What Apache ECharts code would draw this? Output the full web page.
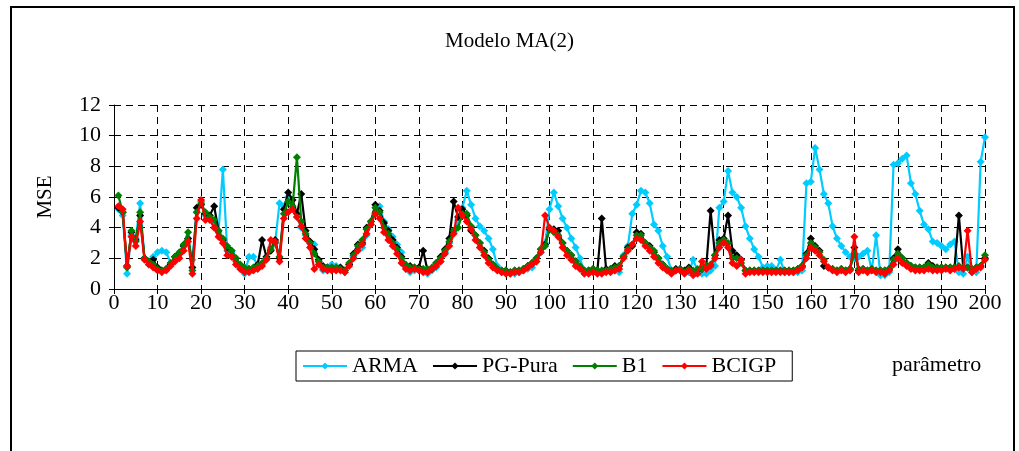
<!DOCTYPE html>
<html>
<head>
<meta charset="utf-8">
<script src="https://cdn.jsdelivr.net/npm/echarts@6/dist/echarts.min.js"></script>
<style>
html,body{margin:0;padding:0;background:#fff;}
#chart{width:1019px;height:451px;}
</style>
</head>
<body>
<div id="chart"></div>
<script>
// parameter index (categories) 1..200
const params = Array.from({length: 200}, (_, i) => i + 1);

const arma = [
5.2,4.8,1.0,3.5,3.3,5.6,2.0,1.6,2.1,2.4,
2.5,2.4,1.7,2.1,2.3,2.8,3.3,1.9,5.0,5.7,
4.8,4.6,4.3,3.7,7.8,2.5,2.4,1.8,1.3,1.0,
2.1,2.1,1.5,1.6,2.0,2.7,3.0,5.6,5.4,6.0,
5.3,4.7,4.0,3.5,3.0,2.9,1.8,1.2,1.4,1.6,
1.5,1.4,1.1,1.6,2.1,2.6,2.7,3.5,4.2,5.0,
5.4,4.4,3.9,3.4,2.9,2.4,1.4,1.1,1.2,1.3,
1.3,1.0,1.2,1.4,1.8,2.4,3.0,3.7,4.5,5.3,
6.4,5.5,4.6,4.1,3.8,3.3,2.6,1.5,1.1,1.1,
1.0,1.0,1.1,1.2,1.3,1.4,1.8,2.4,3.0,5.2,
6.3,5.4,4.6,4.0,3.3,2.7,2.0,1.1,1.2,1.2,
1.1,1.2,1.2,1.2,1.2,1.1,2.2,2.8,4.9,5.5,
6.4,6.3,5.6,4.2,3.8,2.8,2.1,1.2,1.3,1.2,
1.1,1.1,1.9,1.2,1.0,1.0,1.2,1.5,5.3,5.7,
7.7,6.3,6.0,5.3,4.1,3.3,2.6,2.1,1.4,1.5,
1.5,1.2,1.9,1.1,1.1,1.1,1.1,1.2,6.9,7.0,
9.2,7.8,6.2,5.6,4.1,3.3,2.8,2.4,2.1,2.0,
2.1,2.3,2.5,1.2,3.5,0.9,0.9,1.1,8.1,8.2,
8.5,8.7,6.9,6.2,5.1,4.2,3.9,3.1,3.0,2.8,
2.6,2.9,3.1,1.1,1.0,2.1,1.1,1.1,8.3,9.9
];

const pgPura = [
5.3,5.0,1.5,3.7,3.2,4.8,2.0,1.8,1.9,1.4,
1.2,1.3,1.6,2.1,2.3,2.8,3.3,1.4,5.3,5.5,
4.9,4.8,5.4,3.8,3.2,2.7,2.5,2.0,1.5,1.3,
1.3,1.3,1.6,3.2,2.1,2.5,3.2,2.0,5.2,6.3,
5.8,4.9,6.2,3.8,3.1,2.6,1.9,1.5,1.4,1.4,
1.3,1.4,1.2,1.6,2.3,2.9,3.0,4.0,4.4,5.5,
5.1,4.3,3.8,3.2,2.7,2.1,1.5,1.5,1.4,1.4,
2.5,1.2,1.3,1.7,2.1,2.6,3.3,5.7,4.7,5.2,
4.8,3.8,3.5,3.0,2.5,2.0,1.6,1.3,1.2,1.2,
1.1,1.2,1.2,1.3,1.5,1.7,2.0,2.6,2.9,3.9,
3.9,3.8,3.0,2.5,2.2,1.8,1.4,1.2,1.2,1.3,
1.2,4.6,1.3,1.3,1.5,1.5,2.1,2.7,2.8,3.7,
3.6,3.0,2.8,2.4,2.0,1.6,1.3,1.1,1.3,1.3,
1.2,1.4,1.1,1.2,1.3,1.5,5.1,2.2,3.2,3.3,
4.8,2.5,2.2,1.9,1.2,1.2,1.2,1.2,1.2,1.2,
1.2,1.2,1.2,1.2,1.2,1.2,1.3,1.5,2.3,3.3,
2.8,2.5,1.5,1.4,1.3,1.2,1.3,1.2,1.3,2.7,
1.2,1.3,1.2,1.3,1.2,1.2,1.2,1.3,2.0,2.6,
2.0,1.7,1.5,1.4,1.4,1.4,1.7,1.5,1.4,1.4,
1.4,1.4,1.4,4.8,1.4,1.4,1.3,1.4,1.5,2.0
];

const b1 = [
6.1,5.0,1.4,3.8,3.1,5.0,2.0,1.8,1.6,1.3,
1.2,1.3,1.7,2.1,2.4,2.9,3.7,1.2,5.0,5.6,
5.0,4.7,4.5,3.8,3.3,2.8,2.5,2.0,1.6,1.4,
1.3,1.4,1.5,1.7,2.0,2.6,3.0,2.1,4.9,5.7,
5.4,8.6,4.4,3.6,3.0,2.3,1.8,1.4,1.4,1.4,
1.4,1.3,1.2,1.7,2.2,2.8,3.2,3.9,4.4,5.3,
5.0,4.0,3.6,3.0,2.6,2.0,1.6,1.4,1.4,1.3,
1.3,1.3,1.4,1.7,2.0,2.5,3.1,3.8,4.0,4.9,
4.9,4.1,3.5,3.0,2.4,1.9,1.6,1.3,1.2,1.2,
1.1,1.2,1.2,1.3,1.5,1.7,2.0,2.6,2.8,4.0,
3.7,3.5,3.0,2.5,2.2,1.8,1.5,1.2,1.2,1.3,
1.2,1.2,1.2,1.3,1.4,1.5,2.1,2.6,2.9,3.5,
3.5,3.0,2.7,2.5,2.0,1.6,1.3,1.2,1.2,1.3,
1.1,1.3,1.2,1.3,1.3,1.5,1.6,2.2,3.0,3.2,
3.0,2.0,2.0,1.7,1.2,1.2,1.2,1.2,1.2,1.2,
1.2,1.2,1.2,1.2,1.2,1.2,1.3,1.5,2.2,3.0,
2.7,2.4,1.9,1.4,1.3,1.2,1.3,1.2,1.3,2.3,
1.3,1.3,1.2,1.3,1.2,1.2,1.2,1.3,1.9,2.3,
2.0,1.7,1.5,1.4,1.4,1.4,1.6,1.4,1.4,1.4,
1.4,1.4,1.4,1.5,1.4,1.4,1.3,1.4,1.5,2.2
];

const bcigp = [
5.4,5.2,1.5,3.4,2.8,4.4,1.9,1.6,1.4,1.2,
1.1,1.2,1.5,1.8,2.0,2.5,3.1,1.0,4.6,5.8,
4.5,4.5,4.0,3.4,3.0,2.2,2.1,1.6,1.3,1.1,
1.1,1.2,1.3,1.5,1.9,3.2,3.1,1.8,4.6,5.0,
5.2,4.7,4.1,3.3,2.7,1.3,1.6,1.3,1.2,1.2,
1.2,1.2,1.1,1.5,2.0,2.5,2.9,3.6,4.2,4.9,
4.6,3.7,3.2,2.8,2.3,1.7,1.3,1.2,1.3,1.2,
1.1,1.1,1.3,1.5,1.8,2.3,2.8,3.6,5.3,4.8,
4.4,3.9,3.2,2.7,2.2,1.7,1.4,1.2,1.1,1.0,
1.0,1.1,1.1,1.2,1.4,1.6,1.8,2.4,4.8,4.0,
3.8,3.4,2.7,2.2,1.9,1.5,1.3,1.0,1.0,1.1,
1.0,1.0,1.1,1.1,1.2,1.3,2.0,2.5,2.9,3.3,
3.2,2.8,2.5,2.1,1.7,1.4,1.2,1.0,1.2,1.2,
1.0,1.2,0.9,1.0,1.8,1.3,1.5,2.0,2.7,3.0,
2.7,1.7,1.5,1.9,1.0,1.1,1.1,1.1,1.1,1.1,
1.1,1.1,1.1,1.1,1.1,1.1,1.2,1.4,2.0,2.7,
2.5,2.2,1.8,1.4,1.2,1.1,1.2,1.1,1.2,3.4,
1.1,1.2,1.1,1.2,1.1,1.1,1.0,1.2,1.6,2.0,
1.7,1.5,1.3,1.2,1.2,1.2,1.3,1.2,1.2,1.2,
1.3,1.2,1.3,1.4,1.3,3.8,1.1,1.3,1.4,1.9
];

const seriesNames = ['ARMA', 'PG-Pura', 'B1', 'BCIGP'];
const seriesValues = [arma, pgPura, b1, bcigp];
const seriesColors = ['#00CCFF', '#000000', '#008000', '#FF0000'];

const FONT = '"Liberation Serif", "Times New Roman", serif';
const FS = 22;

const chart = echarts.init(document.getElementById('chart'));
chart.setOption({
  animation: false,
  backgroundColor: '#fff',
  title: {
    text: 'Modelo MA(2)',
    left: 'center',
    top: 26,
    textStyle: {fontFamily: FONT, fontSize: 21, fontWeight: 'normal', color: '#000'}
  },
  grid: {left: 114, right: 34, top: 105, bottom: 162},
  legend: {
    data: seriesNames,
    left: 296,
    top: 351,
    itemWidth: 44,
    itemHeight: 9,
    itemGap: 14,
    padding: [4, 16, 4, 6],
    borderColor: '#000',
    borderWidth: 1,
    textStyle: {fontFamily: FONT, fontSize: FS, color: '#000'}
  },
  xAxis: {
    type: 'value',
    min: 0, max: 200, interval: 10,
    axisLine: {show: true, onZero: false, lineStyle: {color: '#000', width: 1}},
    axisTick: {show: true, length: 5, lineStyle: {color: '#000'}},
    axisLabel: {fontFamily: FONT, fontSize: FS, color: '#000', margin: 3},
    splitLine: {show: true, lineStyle: {color: '#000', type: [7, 5], width: 1}}
  },
  yAxis: {
    type: 'value',
    min: 0, max: 12, interval: 2,
    name: 'MSE',
    nameLocation: 'middle',
    nameGap: 58,
    nameRotate: 90,
    nameTextStyle: {fontFamily: FONT, fontSize: 21, color: '#000'},
    axisLine: {show: true, lineStyle: {color: '#000', width: 1}},
    axisTick: {show: true, length: 5, lineStyle: {color: '#000'}},
    axisLabel: {fontFamily: FONT, fontSize: FS, color: '#000', margin: 13},
    splitLine: {show: true, lineStyle: {color: '#000', type: [7, 5], width: 1}}
  },
  graphic: [
    {
      type: 'rect',
      shape: {x: 11, y: 7, width: 1003, height: 470},
      style: {fill: 'none', stroke: '#000', lineWidth: 2},
      silent: true
    },
    {
      type: 'text',
      left: 892,
      top: 354,
      style: {text: 'parâmetro', font: FS + 'px ' + FONT, fill: '#000'}
    }
  ],
  series: seriesNames.map((name, k) => ({
    name: name,
    type: 'line',
    data: params.map((p, i) => [p, seriesValues[k][i]]),
    symbol: 'diamond',
    symbolSize: 8,
    showAllSymbol: true,
    lineStyle: {color: seriesColors[k], width: 2.2},
    itemStyle: {color: seriesColors[k]},
    z: 2 + k
  }))
});
</script>
</body>
</html>
